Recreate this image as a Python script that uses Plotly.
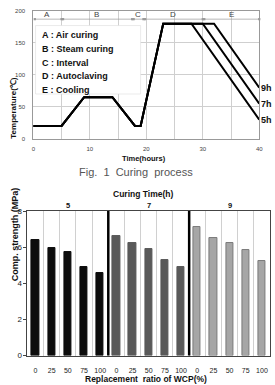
import plotly.graph_objects as go

# ---------------- data: curing process ----------------
time_5h = [0, 5, 9, 14, 18, 19, 23, 28, 40]
temp_5h = [20, 20, 65, 65, 20, 20, 180, 180, 30]
time_7h = [0, 5, 9, 14, 18, 19, 23, 30, 40]
temp_7h = [20, 20, 65, 65, 20, 20, 180, 180, 55]
time_9h = [0, 5, 9, 14, 18, 19, 23, 32, 40]
temp_9h = [20, 20, 65, 65, 20, 20, 180, 180, 80]
series_labels = ["5h", "7h", "9h"]

phase_bounds = [0, 5, 17.5, 19.5, 30, 40]
phase_labels = ["A", "B", "C", "D", "E"]
legend_lines = ["A : Air curing", "B : Steam curing", "C : Interval",
                "D : Autoclaving", "E : Cooling"]

# ---------------- data: compressive strength ----------------
ratios = ["0", "25", "50", "75", "100"]
curing_times = ["5", "7", "9"]
strength_5h = [6.4, 5.95, 5.73, 4.92, 4.59]
strength_7h = [6.63, 6.22, 5.89, 5.31, 4.92]
strength_9h = [7.12, 6.49, 6.22, 5.82, 5.23]
bar_colors = ["#0d0d0d", "#595959", "#a6a6a6"]
bar_lines = ["#0d0d0d", "#595959", "#7a7a7a"]

FONT = "Liberation Sans, Arial, sans-serif"
W, H = 275, 385

fig = go.Figure()

# ---- top chart lines ----
for t, T in [(time_5h, temp_5h), (time_7h, temp_7h), (time_9h, temp_9h)]:
    fig.add_trace(go.Scatter(x=t, y=T, mode="lines",
                             line=dict(color="black", width=2),
                             xaxis="x", yaxis="y", showlegend=False,
                             hoverinfo="skip"))

annotations = []
shapes = []

for t, T, lab in [(time_5h, temp_5h, "5h"), (time_7h, temp_7h, "7h"),
                  (time_9h, temp_9h, "9h")]:
    annotations.append(dict(x=t[-1], y=T[-1], xref="x", yref="y", text=f"<b>{lab}</b>",
                            showarrow=False, xanchor="left", yanchor="middle",
                            xshift=0, font=dict(family=FONT, size=9, color="#111")))

# phase arrows and labels
for i, lab in enumerate(phase_labels):
    a, b = phase_bounds[i], phase_bounds[i + 1]
    annotations.append(dict(x=b, y=187, ax=a, ay=187, xref="x", yref="y",
                            axref="x", ayref="y", text="", showarrow=True,
                            arrowhead=7, arrowside="end+start", arrowsize=0.8,
                            arrowwidth=0.7, arrowcolor="#999"))
    annotations.append(dict(x=(a + b) / 2, y=194, xref="x", yref="y", text=lab,
                            showarrow=False, font=dict(family=FONT, size=8, color="#444")))

# legend box
shapes.append(dict(type="rect", xref="x", yref="y", x0=0.4, x1=19, y0=70, y1=177,
                   fillcolor="white", line=dict(color="#dddddd", width=0.6),
                   layer="between"))
for k, txt in enumerate(legend_lines):
    annotations.append(dict(x=1.2, y=161.5 - k * 21.2, xref="x", yref="y",
                            text=f"<b>{txt}</b>", showarrow=False, xanchor="left",
                            yanchor="middle", font=dict(family=FONT, size=9, color="#111")))

# ---- bottom chart bars ----
n = len(ratios)
for g, (vals, ct) in enumerate(zip([strength_5h, strength_7h, strength_9h], curing_times)):
    xs = [g * n + i for i in range(n)]
    fig.add_trace(go.Bar(x=xs, y=vals, width=0.45, xaxis="x2", yaxis="y2",
                         marker=dict(color=bar_colors[g],
                                     line=dict(color=bar_lines[g], width=1)),
                         showlegend=False, hoverinfo="skip"))
    annotations.append(dict(x=g * n + (n - 1) / 2, y=1, xref="x2", yref="y2 domain",
                            text=f"<b>{ct}</b>", showarrow=False, yanchor="bottom",
                            yshift=-1, font=dict(family=FONT, size=7.5, color="#111")))
    if g > 0:
        shapes.append(dict(type="line", xref="x2", yref="y2 domain",
                           x0=g * n - 0.5, x1=g * n - 0.5, y0=0, y1=1,
                           line=dict(color="black", width=2.5), layer="above"))

all_ticks = list(range(n * len(curing_times)))
all_text = ratios * len(curing_times)

# titles / captions
annotations += [
    dict(x=145 / W, y=1 - 158 / H, xref="paper", yref="paper", text="<b>Time(hours)</b>",
         showarrow=False, font=dict(family=FONT, size=7.5, color="#111")),
    dict(x=5 / W, y=1 - 72 / H, xref="paper", yref="paper", text="<b>Temperature(℃)</b>",
         showarrow=False, textangle=-90, font=dict(family=FONT, size=8, color="#111")),
    dict(x=137 / W, y=1 - 172 / H, xref="paper", yref="paper",
         text="Fig.  1  Curing  process", showarrow=False,
         font=dict(family=FONT, size=11, color="#555")),
    dict(x=144 / W, y=1 - 195 / H, xref="paper", yref="paper", text="<b>Curing Time(h)</b>",
         showarrow=False, font=dict(family=FONT, size=8.5, color="#111")),
    dict(x=6 / W, y=1 - 286 / H, xref="paper", yref="paper",
         text="<b>Comp. strength (MPa)</b>", showarrow=False, textangle=-90,
         font=dict(family=FONT, size=9, color="#111")),
    dict(x=147 / W, y=1 - 384 / H, xref="paper", yref="paper", yanchor="middle",
         text="<b>Replacement  ratio of WCP(%)</b>", showarrow=False,
         font=dict(family=FONT, size=8.5, color="#111")),
]

fig.update_layout(
    width=W, height=H, margin=dict(l=0, r=0, t=0, b=0),
    paper_bgcolor="white", plot_bgcolor="white",
    font=dict(family=FONT),
    xaxis=dict(domain=[32 / W, 263 / W], anchor="y", range=[0, 40], dtick=10,
               showgrid=True, gridcolor="#cfcfcf", gridwidth=1,
               minor=dict(dtick=5, showgrid=True, gridcolor="#cfcfcf"),
               showline=True, mirror=True, linecolor="#999", linewidth=1,
               zeroline=False, ticks="", tickfont=dict(size=6, color="#444"),
               ticklabelstandoff=4),
    yaxis=dict(domain=[1 - 138 / H, 1 - 7 / H], anchor="x", range=[0, 200], dtick=50,
               showgrid=True, gridcolor="#cfcfcf", showline=True, mirror=True,
               linecolor="#999", linewidth=1, zeroline=False,
               ticks="", tickfont=dict(size=6, color="#444"), ticklabelstandoff=6),
    xaxis2=dict(domain=[26 / W, 274 / W], anchor="y2", range=[-0.5, 14.5],
                tickmode="array", tickvals=all_ticks, ticktext=all_text,
                showgrid=False, tickangle=0,
                minor=dict(tick0=0.5, dtick=1, showgrid=True, gridcolor="#d0d0d0"),
                showline=True, mirror=True, linecolor="#444", linewidth=1,
                zeroline=False, ticks="", tickfont=dict(size=7, color="#222"),
                ticklabelstandoff=8),
    yaxis2=dict(domain=[1 - 360 / H, 1 - 212 / H], anchor="x2", range=[0, 8],
                tickvals=[0, 2, 4, 6, 8], showgrid=False, showline=True, mirror=True,
                linecolor="#444", linewidth=1, zeroline=False, ticks="outside",
                ticklen=3, tickcolor="#444", tickfont=dict(size=8, color="#222")),
    annotations=annotations, shapes=shapes, bargap=0,
)

fig.write_html("out.html")
